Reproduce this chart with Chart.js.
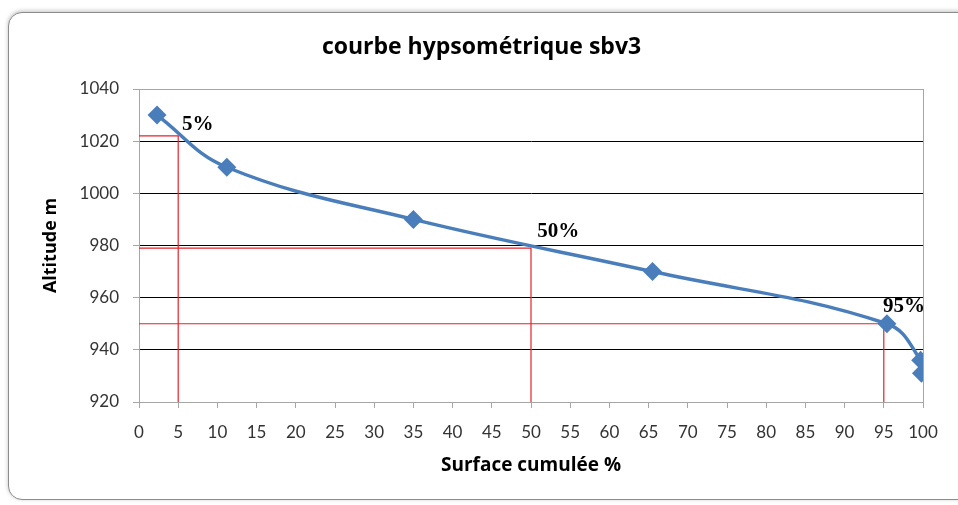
<!DOCTYPE html>
<html><head><meta charset="utf-8">
<script src="https://cdn.jsdelivr.net/npm/chart.js@4/dist/chart.umd.min.js"></script>
<style>
html,body{margin:0;padding:0;background:#fff;}
#wrap{position:absolute;left:0;top:0;width:958px;height:505px;}
#card{position:absolute;left:8px;top:12px;width:962px;height:486px;border:1.5px solid #8c8c8c;border-radius:14px;box-shadow:0 -1px 4px rgba(0,0,0,0.25);background:#fff;}
canvas{position:absolute;left:0;top:0;}
</style></head>
<body>
<div id="wrap"><div id="card"></div><canvas id="c" width="958" height="505"></canvas></div>
<script>
const surface = [2.3, 11.2, 35.0, 65.5, 95.4, 99.7, 99.8];
const altitude = [1030, 1010, 990, 970, 950, 936, 931];
const refX = [5, 50, 95];
const refY = [1022, 979, 950];
const refLabels = ['5%', '50%', '95%'];
const labelX = [5.5, 50.8, 94.9];
const labelY = [1024.3, 983.3, 954.5];
const xMin = 0, xMax = 100, xStep = 5;
const yMin = 920, yMax = 1040, yStep = 20;

const datasets = [{
  data: surface.map((x,i)=>({x, y: altitude[i]})),
  borderColor: '#4A7EBB', backgroundColor: '#4A7EBB',
  borderWidth: 3.5, pointStyle: 'rectRot', pointRadius: 7, pointHoverRadius: 7,
  tension: 0.4, cubicInterpolationMode: 'default', order: 0
}];
refX.forEach((rx,i)=>{
  datasets.push({
    data: [{x: xMin, y: refY[i]}, {x: rx, y: refY[i]}, {x: rx, y: yMin}],
    borderColor: '#E8202A', borderWidth: 1.2, pointRadius: 0, tension: 0, order: 1
  });
});

const frame = {
  id: 'frame',
  beforeDatasetsDraw(chart){
    const a = chart.chartArea, ctx = chart.ctx;
    ctx.save(); ctx.strokeStyle = '#a6a6a6'; ctx.lineWidth = 1;
    ctx.strokeRect(Math.round(a.left)+0.5, Math.round(a.top)+0.5, Math.round(a.right-a.left), Math.round(a.bottom-a.top));
    ctx.restore();
  },
  afterDatasetsDraw(chart){
    const ctx = chart.ctx, xs = chart.scales.x, ys = chart.scales.y;
    ctx.save();
    ctx.font = 'bold 21px "Liberation Serif", serif';
    ctx.fillStyle = '#000'; ctx.textBaseline = 'alphabetic'; ctx.textAlign = 'left';
    refLabels.forEach((t,i)=>{
      ctx.fillText(t, xs.getPixelForValue(labelX[i]), ys.getPixelForValue(labelY[i]));
    });
    ctx.restore();
  }
};

const tickFont = { family: 'Lato, sans-serif', size: 17 };
new Chart(document.getElementById('c'), {
  type: 'line',
  data: { datasets },
  options: {
    responsive: false, animation: false,
    layout: { padding: { left: 40, right: 35, top: 0, bottom: 28 } },
    plugins: {
      legend: { display: false }, tooltip: { enabled: false },
      title: { display: true, text: 'courbe hypsométrique sbv3', color: '#000',
        font: { family: '"Open Sans", sans-serif', size: 23, weight: 'bold' },
        padding: { top: 33.2, bottom: 28.2 } }
    },
    scales: {
      x: { type: 'linear', min: xMin, max: xMax,
        ticks: { stepSize: xStep, color: '#333', font: tickFont, padding: 14, maxRotation: 0, autoSkip: false,
          callback: v => String(v) },
        grid: { drawOnChartArea: false, drawTicks: true, tickLength: 6, color: '#a6a6a6' },
        border: { color: '#a6a6a6' },
        title: { display: true, text: 'Surface cumulée %', color: '#000',
          font: { family: '"Open Sans", sans-serif', size: 19, weight: 'bold' }, padding: { top: 0, bottom: 0 } },
        afterFit(s){ s.height = 505 - 28 - 402; }
      },
      y: { type: 'linear', min: yMin, max: yMax,
        ticks: { stepSize: yStep, color: '#333', font: tickFont, padding: 14, callback: v => String(v) },
        grid: { drawTicks: true, tickLength: 6,
          color: c => c.tick.value === yMax ? '#a6a6a6' : (c.tick.value === yMin ? 'rgba(0,0,0,0)' : '#000'),
          tickColor: '#a6a6a6' },
        border: { color: '#a6a6a6' },
        title: { display: true, text: 'Altitude m', color: '#000',
          font: { family: '"Open Sans", sans-serif', size: 18, weight: 'bold' }, padding: { top: 0, bottom: 0 } },
        afterFit(s){ s.width = 139 - 40; }
      }
    }
  },
  plugins: [frame]
});
</script>
</body></html>
